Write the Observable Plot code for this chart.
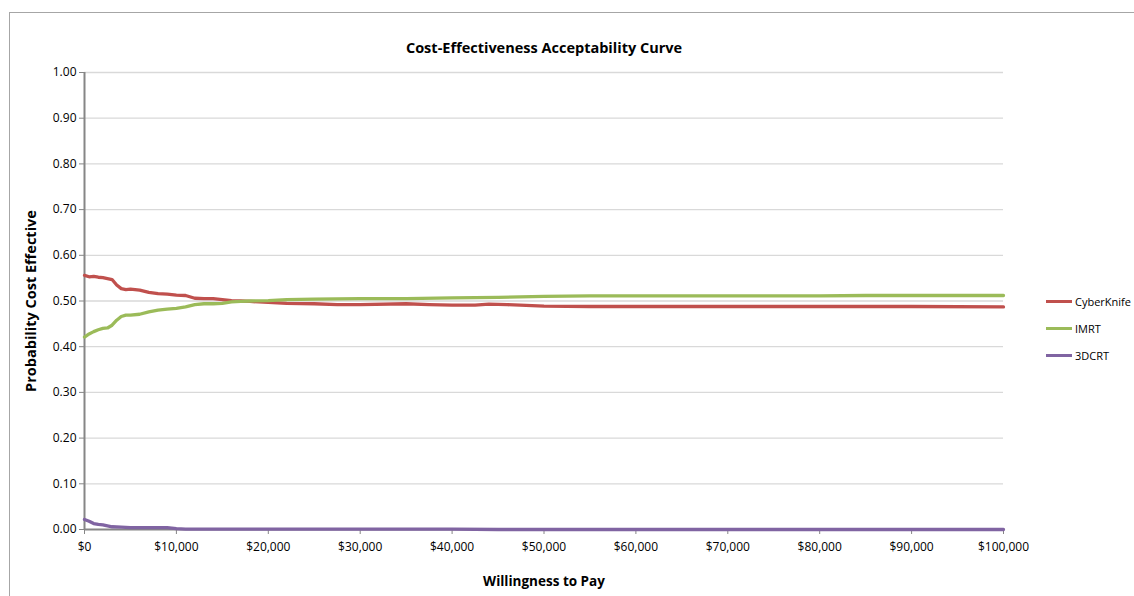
<!DOCTYPE html>
<html>
<head>
<meta charset="utf-8">
<script src="https://cdn.jsdelivr.net/npm/d3@7"></script>
<script src="https://cdn.jsdelivr.net/npm/@observablehq/plot@0.6"></script>
<style>
  html, body { margin: 0; padding: 0; background: #fff; }
  body { width: 1134px; height: 596px; position: relative; overflow: hidden; font-family: "Open Sans", Lato, sans-serif; }
  #frame { position: absolute; left: 9px; top: 12px; width: 1200px; height: 700px; border-left: 1px solid #a6a6a6; border-top: 1px solid #a6a6a6; }
  #chart { position: absolute; left: 0; top: 0; }
  #legend { position: absolute; left: 1046px; top: 288px; font-size: 11px; color: #000; }
  .li { display: flex; align-items: center; height: 27px; }
  .sw { width: 26px; height: 3px; margin-right: 3px; }
</style>
</head>
<body>
<div id="frame"></div>
<div id="chart"></div>
<div id="legend"></div>
<script>
const cyberWTP = [0,500,1000,1500,2000,2500,3000,3500,4000,4500,5000,6000,7000,8000,9000,10000,11000,12000,13000,14000,15000,16000,17000,18000,20000,22000,25000,27500,30000,35000,37500,40000,42500,44000,46000,50000,55000,60000,70000,80000,85000,90000,100000];
const cyberVal = [0.556,0.553,0.554,0.552,0.551,0.549,0.547,0.535,0.527,0.525,0.526,0.524,0.519,0.516,0.515,0.513,0.512,0.506,0.505,0.505,0.503,0.501,0.500,0.499,0.497,0.495,0.494,0.492,0.492,0.494,0.492,0.491,0.491,0.493,0.492,0.489,0.488,0.488,0.488,0.488,0.488,0.488,0.487];

const imrtWTP = [0,500,1000,1500,2000,2500,3000,3500,4000,4500,5000,6000,7000,8000,9000,10000,11000,12000,13000,14000,15000,16000,17000,18000,20000,22000,25000,30000,35000,40000,45000,50000,55000,60000,70000,80000,85000,90000,100000];
const imrtVal = [0.421,0.428,0.433,0.437,0.440,0.441,0.447,0.458,0.466,0.469,0.469,0.471,0.476,0.480,0.482,0.484,0.487,0.492,0.494,0.494,0.495,0.498,0.499,0.500,0.501,0.503,0.504,0.505,0.505,0.507,0.508,0.510,0.511,0.511,0.511,0.511,0.512,0.512,0.512];

const dcrtWTP = [0,500,1000,1500,2000,2500,3000,4000,5000,7000,9000,10000,11000,20000,40000,45000,100000];
const dcrtVal = [0.022,0.018,0.013,0.011,0.010,0.008,0.006,0.005,0.004,0.004,0.004,0.002,0.001,0.001,0.001,0.000,0.000];

const seriesNames = ["CyberKnife", "IMRT", "3DCRT"];
const seriesColors = ["#C0504D", "#9BBB59", "#8064A2"];
const xTicks = [0,10000,20000,30000,40000,50000,60000,70000,80000,90000,100000];
const yTicks = [0,0.1,0.2,0.3,0.4,0.5,0.6,0.7,0.8,0.9,1.0];
const titleText = "Cost-Effectiveness Acceptability Curve";
const xLabel = "Willingness to Pay";
const yLabel = "Probability Cost Effective";

const rows = [];
[[cyberWTP, cyberVal], [imrtWTP, imrtVal], [dcrtWTP, dcrtVal]].forEach(([xs, vs], i) => {
  xs.forEach((x, j) => rows.push({series: seriesNames[i], wtp: x, p: vs[j]}));
});
const drawOrder = ["3DCRT", "CyberKnife", "IMRT"];
const fmtX = d => "$" + d3.format(",")(d);
const fmtY = d3.format(".2f");

const chart = Plot.plot({
  width: 1134,
  height: 596,
  marginLeft: 84,
  marginRight: 131,
  marginTop: 72,
  marginBottom: 67,
  style: {fontFamily: "'Open Sans', Lato, sans-serif", fontSize: "12px", color: "#000", background: "transparent"},
  x: {domain: [0, 100000]},
  y: {domain: [0, 1]},
  color: {domain: seriesNames, range: seriesColors},
  marks: [
    Plot.gridY(yTicks.filter(d => d > 0), {stroke: "#d9d9d9", strokeOpacity: 1, strokeWidth: 1.3}),
    Plot.axisY({ticks: yTicks, tickFormat: fmtY, tickSize: 5, tickPadding: 3, stroke: "#868686", label: null, fontSize: 12, fill: "#000"}),
    Plot.axisX({ticks: xTicks, tickFormat: fmtX, tickSize: 5, tickPadding: 8, stroke: "#868686", label: null, fontSize: 12, fill: "#000"}),
    Plot.ruleX([0], {stroke: "#868686", strokeWidth: 2}),
    Plot.ruleY([0], {stroke: "#868686", strokeWidth: 2}),
    ...drawOrder.map(name => Plot.line(rows.filter(r => r.series === name), {x: "wtp", y: "p", stroke: "series", strokeWidth: 3.3, curve: "linear"})),
    Plot.text([titleText], {frameAnchor: "top", dy: -30, dx: 0, fontWeight: "bold", fontSize: 14.5, fill: "#000"}),
    Plot.text([xLabel], {frameAnchor: "bottom", dy: 56, fontWeight: "bold", fontSize: 13.5, fill: "#000"}),
    Plot.text([yLabel], {frameAnchor: "left", textAnchor: "middle", dx: -53, rotate: -90, fontWeight: "bold", fontSize: 14.5, fill: "#000"})
  ]
});
document.getElementById("chart").appendChild(chart);

const legend = document.getElementById("legend");
seriesNames.forEach((n, i) => {
  const d = document.createElement("div");
  d.className = "li";
  d.innerHTML = `<div class="sw" style="background:${seriesColors[i]}"></div><span>${n}</span>`;
  legend.appendChild(d);
});
</script>
</body>
</html>
